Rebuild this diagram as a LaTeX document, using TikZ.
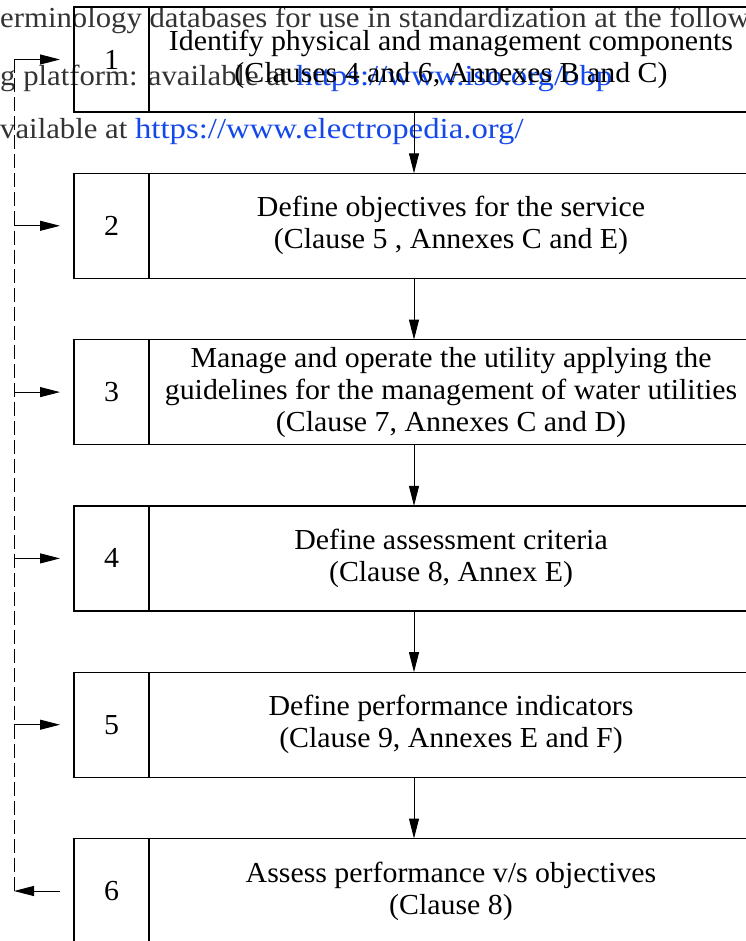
\documentclass[tikz,border=0pt]{standalone}
\usepackage{fontspec}
\setmainfont{Liberation Serif}[FakeStretch=1.03]
\newfontfamily\pagefont{Liberation Serif}[FakeStretch=1.06]
\newfontfamily\linkfont{Liberation Serif}[FakeStretch=1.13]
\usetikzlibrary{positioning,arrows.meta}

\definecolor{linkblue}{RGB}{20,72,235}
\newcommand{\weblink}[1]{\textcolor{linkblue}{\linkfont #1}}
\tikzstyle{numbox} = [draw, rectangle, line width=1.2pt, minimum width=75pt, minimum height=105pt, inner sep=0pt, outer sep=0pt]
\tikzstyle{taskbox} = [draw, rectangle, line width=1.2pt, minimum width=604pt, minimum height=105pt, align=center, inner sep=0pt, outer sep=0pt]
\tikzstyle{inout} = [coordinate]
\tikzstyle{stray} = [anchor=base west, inner sep=0pt, text=black!80, font=\fontsize{29}{32}\pagefont]

\begin{document}
\begin{tikzpicture}[x=1pt, y=1pt, >={Triangle[length=20pt,width=10pt]}, font=\fontsize{29}{32}\selectfont]
  \def\sep{166.3pt}
  \def\tw{339.5pt}
  \useasboundingbox (0,0) rectangle (745,-941);

  % lines of the page showing through
  \node[stray] (s1) at (0,-28) {erminology databases for use in standardization at the follow};
  \node[stray] (s2) at (0,-86) {g platform: available at \weblink{https://www.iso.org/obp}};
  \node[stray] (s3) at (0,-139) {vailable at \weblink{https://www.electropedia.org/}};

  \node[numbox] (n1) at (111.5,-59.5) {1};
  \node[numbox, below of=n1, node distance=\sep] (n2) {2};
  \node[numbox, below of=n2, node distance=\sep] (n3) {3};
  \node[numbox, below of=n3, node distance=\sep] (n4) {4};
  \node[numbox, below of=n4, node distance=\sep] (n5) {5};
  \node[numbox, below of=n5, node distance=\sep] (n6) {6};

  \node[taskbox, right of=n1, node distance=\tw] (t1) {Identify physical and management components\\(Clauses 4 and 6, Annexes B and C)};
  \node[taskbox, right of=n2, node distance=\tw] (t2) {Define objectives for the service\\(Clause 5 , Annexes C and E)};
  \node[taskbox, right of=n3, node distance=\tw] (t3) {Manage and operate the utility applying the\\guidelines for the management of water utilities\\(Clause 7, Annexes C and D)};
  \node[taskbox, right of=n4, node distance=\tw] (t4) {Define assessment criteria\\(Clause 8, Annex E)};
  \node[taskbox, right of=n5, node distance=\tw] (t5) {Define performance indicators\\(Clause 9, Annexes E and F)};
  \node[taskbox, right of=n6, node distance=\tw] (t6) {Assess performance v/s objectives\\(Clause 8)};

  \node[inout] (axis) at (414,0) {};
  \node[inout] (fb) at (14,0) {};
  \foreach \i in {1,...,6}
    \node[inout, left of=n\i, node distance=51.5pt] (in\i) {};

  \foreach \i/\j in {1/2,2/3,3/4,4/5,5/6}
    \draw[->, line width=1pt] (t\i.south -| axis) -- (t\j.north -| axis);
  \foreach \i in {1,...,5}
    \draw[->, line width=1pt] (in\i -| fb) -- (in\i);
  \draw[->, line width=1pt] (in6) -- (in6 -| fb);
  \draw[line width=1pt, dash pattern=on 14pt off 5pt] (in1 -| fb) -- (in6 -| fb);

\end{tikzpicture}
\end{document}
